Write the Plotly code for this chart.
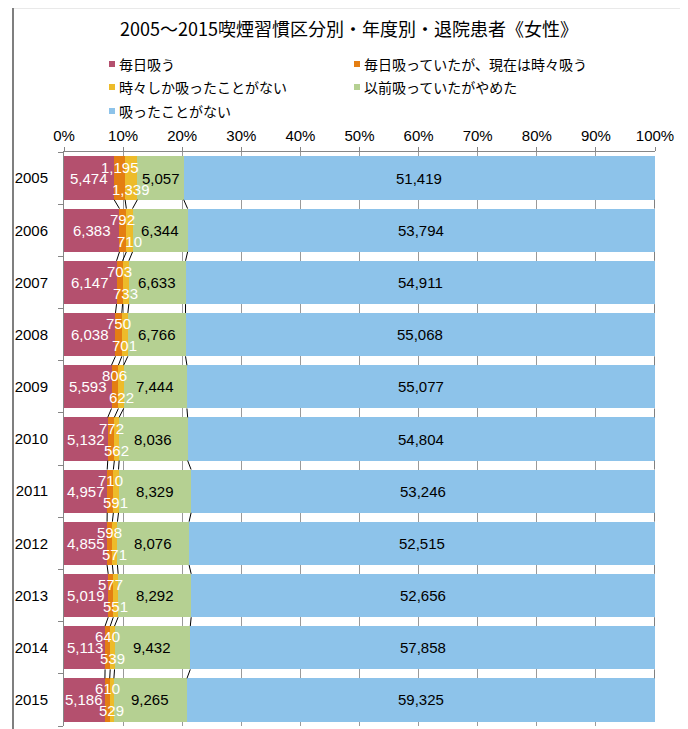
import plotly.graph_objects as go

years = ["2005", "2006", "2007", "2008", "2009", "2010", "2011", "2012", "2013", "2014", "2015"]
daily = [5474, 6383, 6147, 6038, 5593, 5132, 4957, 4855, 5019, 5113, 5186]
daily_now_sometimes = [1195, 792, 703, 750, 806, 772, 710, 598, 577, 640, 610]
only_sometimes = [1339, 710, 733, 701, 622, 562, 591, 571, 551, 539, 529]
quit_smoking = [5057, 6344, 6633, 6766, 7444, 8036, 8329, 8076, 8292, 9432, 9265]
never = [51419, 53794, 54911, 55068, 55077, 54804, 53246, 52515, 52656, 57858, 59325]

names = ["毎日吸う", "毎日吸っていたが、現在は時々吸う", "時々しか吸ったことがない",
         "以前吸っていたがやめた", "吸ったことがない"]
colors = ["#B4506E", "#E47E12", "#EDBB2A", "#B5D092", "#8DC3EA"]
series = [daily, daily_now_sometimes, only_sometimes, quit_smoking, never]

# the page puts the figure 8px in from the top-left corner
OFF = 8
W, H = 688 - OFF, 729 - OFF
# plot area in window pixels
PL, PR, PT, PB = 64, 655, 152, 726
def px(x):
    return (x - PL) / (PR - PL)
def py(y):
    return (PB - y) / (PB - PT)

JP = "Noto Sans CJK JP"
NUM = "Liberation Sans"
BAR_W = 0.83
idx = list(range(len(years)))

fig = go.Figure()
for name, vals, c in zip(names, series, colors):
    fig.add_trace(go.Bar(y=idx, x=vals, orientation="h", name=name, width=BAR_W,
                         marker=dict(color=c, line=dict(width=0)), showlegend=False))

# cumulative percentages for labels and series lines
totals = [sum(s[i] for s in series) for i in idx]
cum = []
for i in idx:
    run, row = 0.0, []
    for s in series:
        run += s[i] / totals[i] * 100
        row.append(run)
    cum.append(row)

# series lines between bars
for k in range(len(series)):
    xs, ys = [], []
    for i in idx[:-1]:
        xs += [cum[i][k], cum[i + 1][k], None]
        ys += [i + BAR_W / 2, i + 1 - BAR_W / 2, None]
    fig.add_trace(go.Scatter(x=xs, y=ys, mode="lines", line=dict(color="black", width=1),
                             showlegend=False, hoverinfo="skip"))

annotations = []
shifts = [0, 11, -11, 0, 0]
tcolors = ["white", "white", "white", "black", "black"]
for i in idx:
    for k, s in enumerate(series):
        start = cum[i][k - 1] if k else 0
        annotations.append(dict(x=(start + cum[i][k]) / 2, y=i, xref="x", yref="y",
                                text=f"{s[i]:,}", showarrow=False, yshift=shifts[k],
                                font=dict(family=NUM, size=15, color=tcolors[k])))

# legend drawn as squares + text
shapes = []
leg_pos = [(112, 64), (357, 64), (112, 87), (357, 87), (112, 111)]
for (lx, ly), name, c in zip(leg_pos, names, colors):
    shapes.append(dict(type="rect", xref="paper", yref="paper",
                       x0=px(lx - 3), x1=px(lx + 3), y0=py(ly + 3), y1=py(ly - 3),
                       fillcolor=c, line=dict(width=0)))
    annotations.append(dict(x=px(lx + 5), y=py(ly), xref="paper", yref="paper", text=name,
                            showarrow=False, xanchor="left", yanchor="middle",
                            font=dict(family=JP, size=14, color="black")))

# chart frame
shapes.append(dict(type="rect", xref="paper", yref="paper", x0=px(13), x1=px(682),
                   y0=py(760), y1=py(7.5), line=dict(color="#A6A6A6", width=1.5)))
shapes.append(dict(type="line", xref="paper", yref="paper", x0=px(13), x1=px(13),
                   y0=py(760), y1=py(7.5), line=dict(color="#7F7F7F", width=2)))

fig.update_layout(
    width=W, height=H,
    margin=dict(l=PL - OFF, r=W - (PR - OFF), t=PT - OFF, b=H - (PB - OFF), autoexpand=False),
    barmode="stack", barnorm="percent",
    paper_bgcolor="white", plot_bgcolor="white",
    title=dict(text="2005～2015喫煙習慣区分別・年度別・退院患者《女性》",
               x=(349 - OFF) / W, xanchor="center", xref="container",
               y=1 - (30 - OFF) / H, yanchor="middle", yref="container",
               font=dict(family=JP, size=18, color="black")),
    xaxis=dict(range=[0, 100], side="top", tickvals=list(range(0, 101, 10)),
               ticktext=[f"{v}%" for v in range(0, 101, 10)], automargin=False,
               ticks="outside", ticklen=4, tickcolor="#868686",
               showline=True, linecolor="#868686", linewidth=1,
               showgrid=True, gridcolor="#9A9A9A", gridwidth=1, zeroline=False,
               tickfont=dict(family=NUM, size=15, color="black")),
    yaxis=dict(range=[len(years) - 0.5, -0.5], tickvals=idx, ticktext=years,
               ticks="", showline=True, linecolor="#868686", linewidth=1, automargin=False,
               showgrid=False, zeroline=False, ticklabelstandoff=12,
               minor=dict(tickvals=[i - 0.5 for i in range(len(years) + 1)],
                          ticks="outside", ticklen=5, tickcolor="#868686"),
               tickfont=dict(family=NUM, size=15, color="black")),
    annotations=annotations, shapes=shapes,
)

fig.write_html("out.html")
